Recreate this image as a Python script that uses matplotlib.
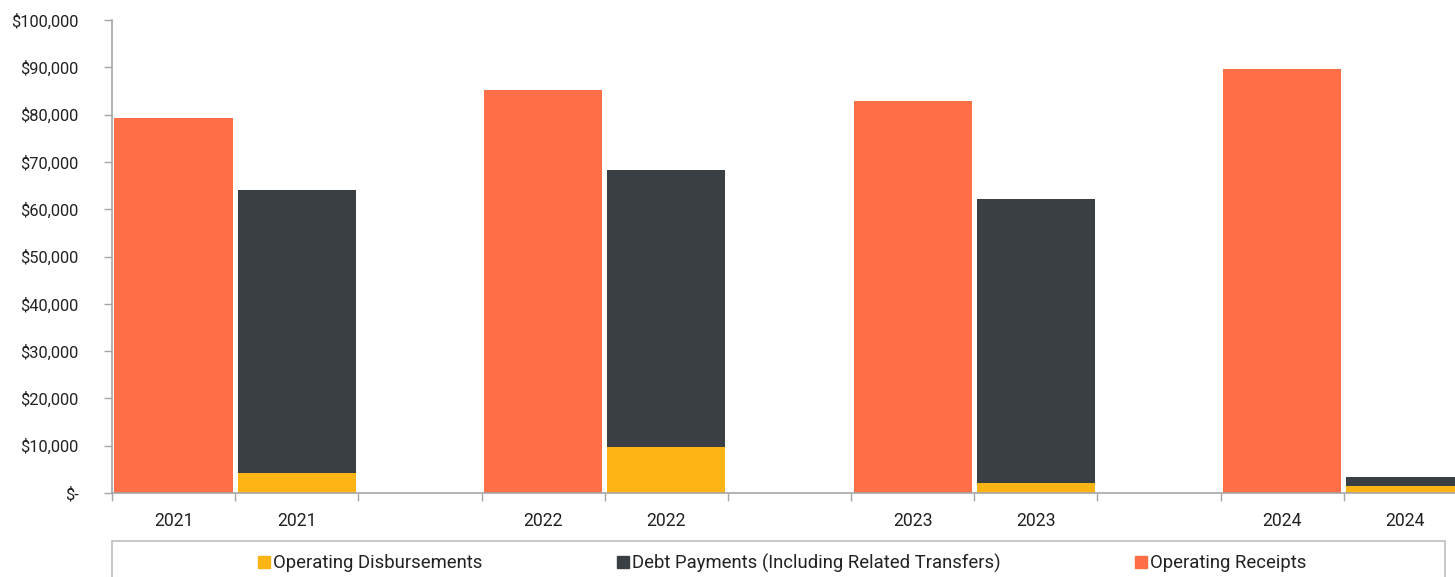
import matplotlib
matplotlib.use("Agg")
import matplotlib.pyplot as plt
from matplotlib.patches import Patch, Rectangle
import numpy as np

plt.rcParams['font.family'] = ['Roboto', 'DejaVu Sans']

years = ["2021", "2022", "2023", "2024"]
operating_receipts = [79300, 85200, 82900, 89600]
operating_disbursements = [4200, 9700, 2100, 1500]
debt_payments = [59900, 58600, 60100, 1800]

c_receipts = "#FF6F47"
c_debt = "#3A3F44"
c_disb = "#FDB515"
spine_c = "#A6A6A6"

W, H = 1455, 577
fig = plt.figure(figsize=(W / 100, H / 100), dpi=100)
# axes spans pixels x 112..1467 (clipped by figure), y 20..493
x0, x1, y0, y1 = 112, 1467, 20, 493
ax = fig.add_axes([x0 / W, 1 - y1 / H, (x1 - x0) / W, (y1 - y0) / H])

n = len(years)
slots = 3 * n - 1
r_pos = np.array([3 * i for i in range(n)])
d_pos = r_pos + 1
bw = 0.96

ax.bar(r_pos, operating_receipts, width=bw, color=c_receipts, zorder=2)
ax.bar(d_pos, operating_disbursements, width=bw, color=c_disb, zorder=2)
ax.bar(d_pos, debt_payments, width=bw, bottom=operating_disbursements, color=c_debt, zorder=2)

ax.set_xlim(-0.5, slots - 0.5)
ax.set_ylim(0, 100000)

yt = np.arange(0, 100001, 10000)
ax.set_yticks(yt)
ax.set_yticklabels(["$-" if v == 0 else f"${v:,.0f}" for v in yt])

label_pos = []
label_txt = []
for i, y in enumerate(years):
    label_pos += [r_pos[i], d_pos[i]]
    label_txt += [y, y]
ax.set_xticks(label_pos)
ax.set_xticklabels(label_txt)
ax.set_xticks(np.arange(-0.5, slots, 1.0), minor=True)
ax.tick_params(axis='x', which='major', length=0, pad=14, labelsize=12.7, colors="#222222")
ax.tick_params(axis='x', which='minor', length=6, width=1, color=spine_c, direction='out')
ax.tick_params(axis='y', which='major', length=6, width=1, color=spine_c, pad=18,
               labelsize=11.9, labelcolor="#222222")

for s in ['top', 'right']:
    ax.spines[s].set_visible(False)
for s in ['left', 'bottom']:
    ax.spines[s].set_color(spine_c)
    ax.spines[s].set_linewidth(1.2)

# legend box
lx0, lx1, ly0 = 112, 1445, 541
fig.patches.append(Rectangle((lx0 / W, -0.05), (lx1 - lx0) / W, (H - ly0) / H + 0.05,
                             transform=fig.transFigure, fill=False, edgecolor="#BFBFBF",
                             linewidth=1.2))
handles = [Patch(color=c_disb, label="Operating Disbursements"),
           Patch(color=c_debt, label="Debt Payments (Including Related Transfers)"),
           Patch(color=c_receipts, label="Operating Receipts")]
fig.legend(handles=handles, loc='center', bbox_to_anchor=(782 / W, 1 - 563 / H), ncol=3,
           frameon=False, fontsize=13.3, handlelength=0.65, handleheight=0.65,
           handletextpad=0.15, columnspacing=7.3, labelcolor="#222222")

fig.savefig("out.png", dpi=100)
